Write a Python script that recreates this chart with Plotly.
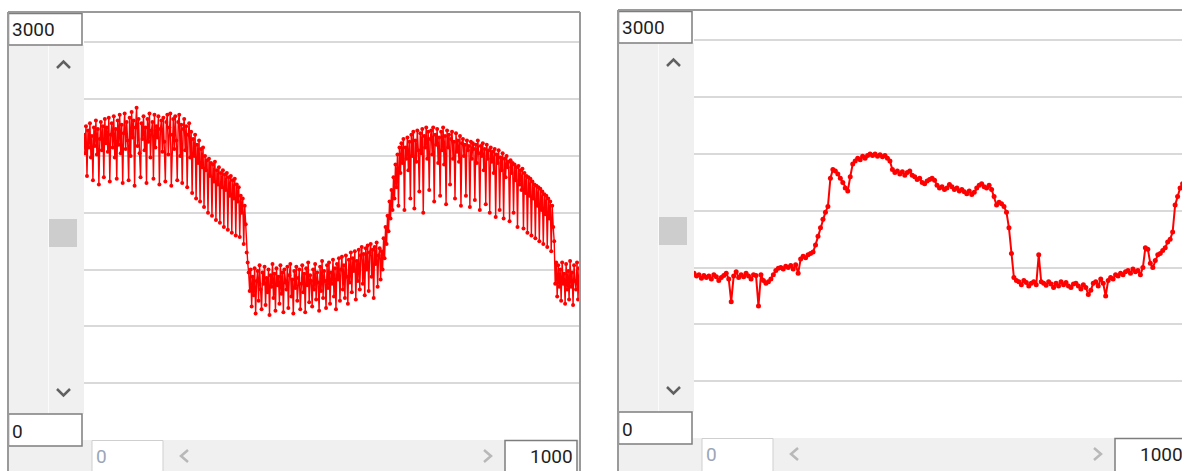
import plotly.graph_objects as go

# ---------------- data ----------------
left_values = [
    2150, 2020, 2210, 1860, 2180, 2060, 2230, 1990, 2140, 1830,
    2200, 2070, 2250, 2010, 2190, 1800, 2120, 2240, 2040, 2210,
    1850, 2260, 2090, 2200, 2030, 2270, 1820, 2150, 2230, 2060,
    2280, 1990, 2190, 1840, 2250, 2080, 2290, 2020, 2220, 1810,
    2160, 2300, 2050, 2240, 2110, 1830, 2270, 2000, 2310, 2130,
    2250, 1790, 2200, 2340, 2070, 2260, 2020, 1850, 2230, 2120,
    2280, 2040, 2200, 1810, 2260, 2100, 2300, 1990, 2180, 2240,
    1840, 2290, 2060, 2210, 2130, 2280, 1800, 2190, 2250, 2030,
    2270, 2100, 1820, 2240, 2290, 2010, 2200, 2300, 1790, 2150,
    2260, 2050, 2280, 2110, 1830, 2240, 2290, 2000, 2220, 1810,
    2190, 2260, 2040, 2210, 1780, 2150, 2230, 1990, 2170, 1740,
    2120, 2000, 2150, 1700, 2080, 1950, 2110, 1680, 2050, 1920,
    2060, 1640, 2000, 1900, 1970, 1600, 1980, 1860, 1950, 1580,
    1940, 1820, 1960, 1550, 1900, 1800, 1920, 1530, 1880, 1780,
    1900, 1500, 1870, 1760, 1880, 1480, 1850, 1720, 1860, 1460,
    1830, 1700, 1840, 1440, 1800, 1680, 1780, 1430, 1720, 1600,
    1700, 1380, 1650, 1520, 1320, 1250, 1180, 1050, 1200, 940,
    1150, 1020, 1210, 890, 1120, 1190, 980, 1230, 1060, 920,
    1180, 1100, 1220, 950, 1140, 1040, 1200, 880, 1160, 1080,
    1240, 1000, 1170, 910, 1210, 1090, 1150, 960, 1230, 1030,
    1180, 900, 1200, 1110, 1060, 1220, 930, 1160, 1240, 1010,
    1130, 890, 1190, 1070, 1220, 980, 1140, 1200, 920, 1100,
    1230, 1040, 1170, 900, 1210, 1090, 1250, 970, 1160, 1120,
    940, 1200, 1060, 1240, 990, 1180, 1110, 910, 1220, 1050,
    1260, 1000, 1190, 1120, 930, 1230, 1070, 1250, 960, 1180,
    1100, 1270, 1010, 1210, 920, 1240, 1130, 1280, 980, 1200,
    1290, 1060, 1230, 1000, 1300, 1150, 960, 1270, 1110, 1320,
    1040, 1280, 1190, 1330, 990, 1260, 1120, 1340, 1060, 1300,
    1360, 1100, 1310, 1020, 1350, 1200, 1370, 1050, 1320, 1380,
    1150, 1340, 1000, 1360, 1240, 1390, 1080, 1300, 1350, 1130,
    1330, 1200, 1420, 1280, 1500, 1380, 1580, 1470, 1680, 1560,
    1760, 1620, 1850, 1700, 1940, 1780, 2010, 1650, 2060, 1880,
    2090, 1950, 2120, 1620, 2060, 1980, 2130, 1900, 2100, 1700,
    2150, 2000, 2170, 1630, 2110, 1960, 2180, 2040, 1750, 2160,
    2020, 2190, 1600, 2140, 2060, 2200, 1980, 2170, 1760, 2120,
    2180, 2010, 2200, 1680, 2150, 2080, 2190, 1950, 2130, 1720,
    2170, 2040, 2200, 1940, 2140, 1660, 2180, 2060, 2150, 1800,
    2120, 2170, 1980, 2100, 1700, 2160, 2030, 2110, 1960, 2140,
    1650, 2090, 2120, 2000, 2080, 1720, 2110, 2040, 2070, 1640,
    2100, 1980, 2090, 2050, 1690, 2080, 1950, 2110, 2020, 1620,
    2070, 2000, 2090, 1900, 2050, 1660, 2080, 1980, 2040, 1600,
    2060, 1960, 2030, 1880, 2050, 1570, 2010, 1950, 2040, 1620,
    1990, 1900, 2020, 1560, 1980, 1850, 2000, 1920, 1960, 1540,
    1970, 1880, 1950, 1600, 1940, 1830, 1920, 1500, 1930, 1800,
    1900, 1760, 1910, 1490, 1880, 1740, 1860, 1460, 1850, 1720,
    1840, 1440, 1820, 1700, 1800, 1420, 1790, 1650, 1780, 1400,
    1770, 1620, 1750, 1380, 1730, 1590, 1720, 1360, 1700, 1560,
    1680, 1330, 1650, 1500, 1400, 1100, 1250, 1010, 1230, 1080,
    1200, 980, 1250, 1100, 1170, 960, 1240, 1060, 1190, 990,
    1260, 1080, 1180, 950, 1230, 1120, 1060, 1250, 990, 1210,
]
left_x = [i * 2 for i in range(len(left_values))]

right_values = [
    1160, 1140, 1150, 1125, 1145, 1130, 1140, 1120, 1150, 1135,
    1110, 1130, 1145, 1160, 1120, 960, 1140, 1170, 1130, 1150,
    1135, 1160, 1140, 1120, 1150, 1145, 930, 1150, 1110, 1090,
    1100, 1120, 1150, 1180, 1195, 1200, 1190, 1210, 1200, 1215,
    1190, 1220, 1160, 1260, 1280, 1270, 1290, 1300, 1310, 1360,
    1420, 1480, 1540, 1590, 1630, 1830, 1890, 1880, 1860, 1830,
    1800, 1760, 1740, 1840, 1930, 1950, 1970, 1960, 1985, 1970,
    1990, 2000, 1990, 2000, 1985, 1995, 1980, 1990, 1970, 1950,
    1890, 1870, 1880, 1860, 1875, 1850, 1870, 1880, 1850, 1840,
    1820, 1830, 1800, 1790, 1810, 1820, 1830, 1815, 1780, 1760,
    1770, 1750, 1760, 1785, 1770, 1750, 1760, 1740, 1750, 1735,
    1720, 1740, 1715, 1730, 1760, 1780, 1790, 1770, 1760, 1780,
    1750, 1700, 1640, 1660, 1650, 1630, 1590, 1480, 1300, 1130,
    1110, 1100, 1080, 1110, 1095, 1070, 1090, 1100, 1080, 1290,
    1100, 1090, 1075, 1100, 1085, 1060, 1090, 1070, 1100, 1080,
    1095, 1070, 1060, 1085, 1090, 1070, 1050, 1080, 1060, 1010,
    1040, 1090, 1100, 1070, 1120, 1090, 1000, 1110, 1130, 1120,
    1150, 1140, 1160, 1150, 1170, 1180, 1160, 1190, 1170, 1180,
    1150, 1200, 1340, 1330, 1230, 1200, 1250, 1290, 1300, 1320,
    1340, 1380, 1400, 1450, 1640, 1700, 1760, 1790, 1820, 1850,
    1880,
]
right_x = [i * 5 for i in range(len(right_values))]

y_max = 3000
x_max = 1000
grid_step = 400
box_top_label = "3000"
box_bottom_label = "0"
box_x_min_label = "0"
box_x_max_label = "1000"

# ---------------- geometry helpers ----------------
W, H = 1182, 471


def px(x):
    return x / W


def py(y):
    return 1 - y / H


shapes = []
annotations = []


def rect(x0, y0, x1, y1, fill, line_color=None, lw=0):
    shapes.append(dict(type="rect", xref="paper", yref="paper",
                       x0=px(x0), x1=px(x1), y0=py(y1), y1=py(y0),
                       fillcolor=fill,
                       line=dict(color=line_color or fill, width=lw),
                       layer="above"))


def line(x0, y0, x1, y1, color, lw):
    shapes.append(dict(type="line", xref="paper", yref="paper",
                       x0=px(x0), x1=px(x1), y0=py(y0), y1=py(y1),
                       line=dict(color=color, width=lw), layer="above"))


def poly(points, color, lw):
    d = "M " + " L ".join(f"{px(a):.5f},{py(b):.5f}" for a, b in points)
    shapes.append(dict(type="path", xref="paper", yref="paper", path=d,
                       line=dict(color=color, width=lw), layer="above"))


def text(x, y, s, color, anchor="left", size=19):
    annotations.append(dict(xref="paper", yref="paper", x=px(x), y=py(y),
                            text=s, showarrow=False, xanchor=anchor,
                            yanchor="middle",
                            font=dict(family="Roboto", size=size, color=color)))


def panel(dx, dy, right_edge):
    # gray strips
    rect(8 + dx, 45 + dy, 84 + dx, 414 + dy, "#f0f0f0")
    rect(8 + dx, 440 + dy, right_edge, 471, "#f0f0f0")
    line(48.5 + dx, 45 + dy, 48.5 + dx, 414 + dy, "#fbfbfb", 1)
    # scroll thumb
    rect(49 + dx, 219 + dy, 77 + dx, 247 + dy, "#cdcdcd")
    # chevrons
    poly([(57 + dx, 68 + dy), (63.5 + dx, 61.5 + dy), (70 + dx, 68 + dy)], "#606060", 2.5)
    poly([(57 + dx, 389 + dy), (63.5 + dx, 395.5 + dy), (70 + dx, 389 + dy)], "#606060", 2.5)
    poly([(188 + dx, 450 + dy), (181 + dx, 456 + dy), (188 + dx, 462 + dy)], "#b8b8b8", 2.5)
    poly([(484 + dx, 450 + dy), (491 + dx, 456 + dy), (484 + dx, 462 + dy)], "#b8b8b8", 2.5)
    # text boxes
    rect(8.5 + dx, 13.5 + dy, 82 + dx, 45 + dy, "white", "#7d7d7d", 1.5)
    rect(8.5 + dx, 414 + dy, 82 + dx, 446 + dy, "white", "#7d7d7d", 1.5)
    rect(92 + dx, 440.5 + dy, 163 + dx, 480, "white", "#cfcfcf", 1)
    rect(505 + dx, 440.5 + dy, 577 + dx, 480, "white", "#7d7d7d", 1.5)
    text(10 + dx, 30 + dy, box_top_label, "#1e1e1e")
    text(10 + dx, 431 + dy, box_bottom_label, "#1e1e1e")
    text(94 + dx, 456 + dy, box_x_min_label, "#9aa6b8")
    text(575 + dx, 456 + dy, box_x_max_label, "#1e1e1e", anchor="right")
    # panel border
    line(8 + dx, 12 + dy, 8 + dx, 471, "#9a9a9a", 2)
    line(8 + dx, 12 + dy, right_edge, 12 + dy, "#9a9a9a", 2)
    if right_edge < W:
        line(right_edge, 12 + dy, right_edge, 471, "#9a9a9a", 2)


panel(0, 0, 580)
panel(610, -2, 1190)

# ---------------- figure ----------------
fig = go.Figure()
left_style = dict(mode="lines+markers",
                  line=dict(color="#ff0000", width=1.4),
                  marker=dict(color="#ff0000", size=4),
                  showlegend=False, hoverinfo="skip")
right_style = dict(mode="lines+markers",
                   line=dict(color="#ff0000", width=2),
                   marker=dict(color="#ff0000", size=5),
                   showlegend=False, hoverinfo="skip")
fig.add_trace(go.Scatter(x=left_x, y=left_values, xaxis="x", yaxis="y", **left_style))
fig.add_trace(go.Scatter(x=right_x, y=right_values, xaxis="x2", yaxis="y2", **right_style))

axis_common = dict(showticklabels=False, zeroline=False, ticks="", showline=False)
fig.update_layout(
    width=W, height=H,
    margin=dict(l=0, r=0, t=0, b=0),
    paper_bgcolor="white", plot_bgcolor="white",
    xaxis=dict(domain=[px(84), px(580)], range=[0, x_max], showgrid=False, **axis_common),
    yaxis=dict(domain=[py(440), py(14)], range=[0, y_max], showgrid=True,
               gridcolor="#d9d9d9", gridwidth=2, tick0=0, dtick=grid_step, **axis_common),
    xaxis2=dict(domain=[px(694), 1], range=[0, x_max * (W - 694) / 496],
                showgrid=False, anchor="y2", **axis_common),
    yaxis2=dict(domain=[py(438), py(12)], range=[0, y_max], showgrid=True,
                gridcolor="#d9d9d9", gridwidth=2, tick0=0, dtick=grid_step,
                anchor="x2", **axis_common),
    shapes=shapes,
    annotations=annotations,
)

fig.write_html("out.html", config={"displayModeBar": False},
               post_script="document.body.style.margin='0px';document.body.style.overflow='hidden';")
